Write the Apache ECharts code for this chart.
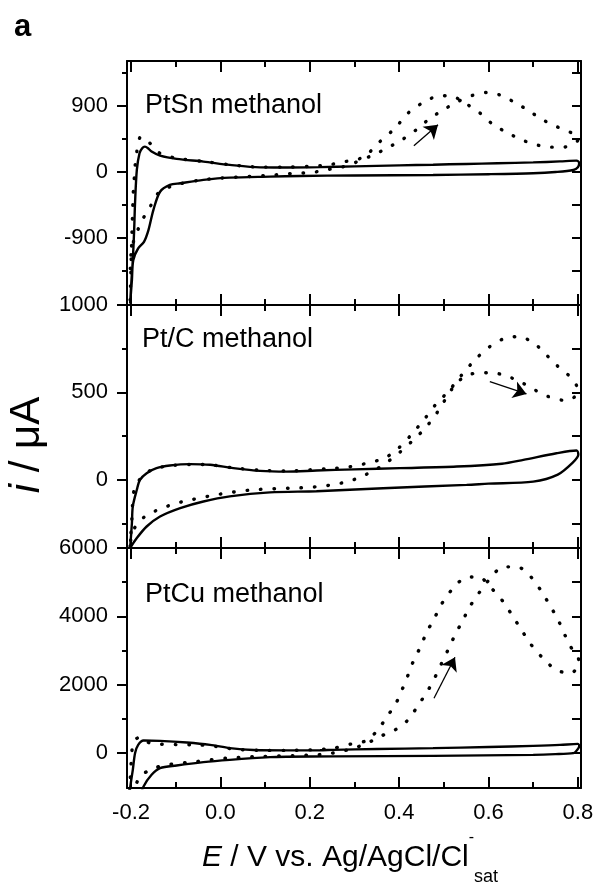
<!DOCTYPE html>
<html><head><meta charset="utf-8">
<script src="https://cdn.jsdelivr.net/npm/echarts@6/dist/echarts.min.js"></script>
<style>html,body{margin:0;padding:0;background:#fff}#c{width:597px;height:885px}</style>
</head><body><div id="c"></div>
<script>
const panelNames = ['PtSn methanol', 'Pt/C methanol', 'PtCu methanol'];
const xRange = [-0.209, 0.807];
const xMajorTicks = [-0.2, 0, 0.2, 0.4, 0.6, 0.8];
const xMinorTicks = [-0.1, 0.1, 0.3, 0.5, 0.7];
const yRanges = [[-1820, 1510], [-390, 1000], [-1020, 6000]];
const yMajorTicks = [[-900, 0, 900], [0, 500, 1000], [0, 2000, 4000, 6000]];
const yMinorTicks = [[-1350, -450, 450, 1350], [-250, 250, 750], [1000, 3000, 5000]];
const yTickLabels = [[-900, 0, 900], [0, 500, 1000], [0, 2000, 4000, 6000]];

// PtSn
const ptsnSolid = [[-0.202,-1800],[-0.199,-1480],[-0.196,-1208],[-0.193,-800],[-0.191,-428],[-0.187,23],[-0.181,252],[-0.175,320],[-0.169,342],[-0.162,320],[-0.154,274],[-0.135,219],[-0.098,174],[-0.038,137],[0.021,92],[0.089,58],[0.15,57],[0.223,62],[0.30,72],[0.40,85],[0.476,95],[0.55,105],[0.62,115],[0.70,126],[0.76,140],[0.797,150],[0.803,120],[0.800,60],[0.79,23],[0.75,-5],[0.70,-22],[0.60,-35],[0.476,-45],[0.30,-52],[0.178,-59],[0.111,-68],[0.021,-82],[-0.038,-113],[-0.09,-159],[-0.113,-182],[-0.135,-274],[-0.150,-524],[-0.161,-798],[-0.171,-958],[-0.184,-1048],[-0.195,-1208],[-0.198,-1481],[-0.202,-1800]];
const ptsnDotted = [[-0.202,-1750],[-0.200,-1300],[-0.199,-1071],[-0.197,-660],[-0.195,-296],[-0.193,-114],[-0.191,68],[-0.187,274],[-0.178,479],[-0.167,430],[-0.156,379],[-0.135,250],[-0.1,185],[-0.04,140],[0.02,95],[0.09,62],[0.15,62],[0.20,72],[0.24,90],[0.279,137],[0.309,170],[0.331,251],[0.357,410],[0.391,594],[0.420,799],[0.454,944],[0.484,1026],[0.514,1036],[0.547,936],[0.581,799],[0.611,639],[0.644,525],[0.674,434],[0.708,365],[0.737,334],[0.767,334],[0.790,380],[0.802,450],[0.795,510],[0.782,540],[0.752,616],[0.719,717],[0.689,835],[0.659,944],[0.626,1045],[0.596,1081],[0.564,1040],[0.532,958],[0.499,844],[0.467,717],[0.438,570],[0.406,434],[0.372,320],[0.342,228],[0.30,120],[0.27,60],[0.234,23],[0.204,-14],[0.17,-22],[0.10,-55],[0.0,-88],[-0.05,-120],[-0.10,-180],[-0.125,-240],[-0.143,-319],[-0.159,-501],[-0.178,-698],[-0.199,-1071],[-0.202,-1500]];
const ptsnArrow = [[0.433,352],[0.487,639]];

// Pt/C
const ptcSolid = [[-0.202,-390],[-0.198,-247],[-0.196,-152],[-0.187,-57],[-0.18,0],[-0.165,38],[-0.143,67],[-0.113,82],[-0.068,90],[-0.023,86],[0.029,67],[0.089,51],[0.148,47],[0.215,53],[0.30,60],[0.402,67],[0.529,76],[0.63,92],[0.678,114],[0.752,152],[0.797,168],[0.801,143],[0.789,100],[0.755,30],[0.70,-10],[0.60,-22],[0.551,-29],[0.364,-48],[0.215,-65],[0.111,-72],[0.021,-95],[-0.038,-124],[-0.090,-162],[-0.135,-210],[-0.165,-267],[-0.187,-333],[-0.202,-390]];
const ptcDotted = [[-0.202,-380],[-0.198,-219],[-0.193,-57],[-0.178,10],[-0.154,57],[-0.12,78],[-0.07,88],[-0.02,85],[0.03,68],[0.09,55],[0.15,50],[0.2,57],[0.249,65],[0.283,72],[0.312,86],[0.335,99],[0.368,125],[0.398,180],[0.428,260],[0.458,352],[0.484,438],[0.51,505],[0.54,600],[0.573,695],[0.603,762],[0.637,810],[0.666,819],[0.70,785],[0.726,724],[0.752,657],[0.786,581],[0.799,520],[0.795,480],[0.775,453],[0.734,476],[0.704,514],[0.670,562],[0.64,594],[0.607,613],[0.577,610],[0.553,600],[0.525,543],[0.484,381],[0.458,295],[0.428,219],[0.398,150],[0.37,95],[0.345,55],[0.316,19],[0.286,-10],[0.256,-25],[0.227,-38],[0.2,-42],[0.178,-46],[0.074,-57],[-0.001,-82],[-0.083,-124],[-0.113,-146],[-0.143,-175],[-0.169,-210],[-0.187,-257],[-0.198,-305],[-0.202,-380]];
const ptcArrow = [[0.603,562],[0.685,491]];

// PtCu
const ptcuSolid = [[-0.204,-1400],[-0.202,-1022],[-0.196,-488],[-0.191,0],[-0.184,242],[-0.172,368],[-0.135,359],[-0.075,310],[-0.023,242],[0.021,146],[0.074,90],[0.15,80],[0.223,85],[0.253,96],[0.35,120],[0.476,146],[0.60,180],[0.70,213],[0.76,240],[0.80,272],[0.803,200],[0.795,40],[0.79,0],[0.75,-30],[0.70,-50],[0.476,-79],[0.253,-95],[0.15,-105],[0.111,-117],[0.021,-196],[-0.038,-263],[-0.098,-361],[-0.135,-438],[-0.154,-633],[-0.172,-975],[-0.18,-1300]];
const ptcuDotted = [[-0.205,-1500],[-0.201,-600],[-0.199,-146],[-0.196,242],[-0.188,420],[-0.179,467],[-0.165,330],[-0.146,272],[-0.10,250],[-0.05,240],[-0.02,213],[0.014,146],[0.05,100],[0.1,80],[0.15,80],[0.2,95],[0.253,146],[0.294,272],[0.327,368],[0.351,660],[0.373,1069],[0.393,1460],[0.408,1898],[0.420,2286],[0.433,2724],[0.448,3113],[0.461,3522],[0.478,3922],[0.495,4360],[0.516,4748],[0.545,5110],[0.577,5157],[0.609,4789],[0.633,4427],[0.654,4009],[0.674,3600],[0.696,3162],[0.722,2774],[0.752,2432],[0.784,2336],[0.803,2675],[0.796,2900],[0.786,3066],[0.771,3454],[0.756,3892],[0.737,4330],[0.719,4719],[0.696,5139],[0.664,5449],[0.633,5449],[0.602,5081],[0.579,4690],[0.558,4281],[0.542,3872],[0.525,3454],[0.510,3037],[0.495,2628],[0.481,2237],[0.463,1799],[0.443,1410],[0.420,972],[0.391,680],[0.357,486],[0.33,300],[0.30,150],[0.27,50],[0.24,-20],[0.2,-60],[0.089,-99],[0.014,-146],[-0.053,-245],[-0.12,-342],[-0.15,-450],[-0.18,-683],[-0.19,-1000],[-0.195,-1400]];
const ptcuArrow = [[0.478,1606],[0.525,2803]];

const solidData = [ptsnSolid, ptcSolid, ptcuSolid];
const dottedData = [ptsnDotted, ptcDotted, ptcuDotted];
const arrowData = [ptsnArrow, ptcArrow, ptcuArrow];

const FONT = '"Liberation Sans", Arial, sans-serif';
const gridTops = [61, 305, 548];
const gridHeights = [244, 243, 240];
const black = '#000';

const grids = [], xAxes = [], yAxes = [], series = [];
for (let i = 0; i < 3; i++) {
  grids.push({left: 127, right: 16, top: gridTops[i], height: gridHeights[i]});
  const xBase = {gridIndex: i, type: 'value', min: xRange[0], max: xRange[1], splitLine: {show: false}};
  const line = {show: true, onZero: false, lineStyle: {color: black, width: 2}};
  const noLine = {show: false, onZero: false};
  xAxes.push(Object.assign({}, xBase, {position: 'bottom', axisLine: line,
    axisTick: {inside: true, length: 11, customValues: xMajorTicks, lineStyle: {color: black, width: 2}},
    axisLabel: {show: i === 2, customValues: xMajorTicks, formatter: v => v.toFixed(1), fontSize: 22, color: black, margin: 14, fontFamily: FONT}}));
  xAxes.push(Object.assign({}, xBase, {position: 'bottom', axisLine: noLine,
    axisTick: {inside: true, length: 6, customValues: xMinorTicks, lineStyle: {color: black, width: 2}},
    axisLabel: {show: false}}));
  xAxes.push(Object.assign({}, xBase, {position: 'top', axisLine: line,
    axisTick: {inside: true, length: 11, customValues: xMajorTicks, lineStyle: {color: black, width: 2}},
    axisLabel: {show: false}}));
  xAxes.push(Object.assign({}, xBase, {position: 'top', axisLine: noLine,
    axisTick: {inside: true, length: 6, customValues: xMinorTicks, lineStyle: {color: black, width: 2}},
    axisLabel: {show: false}}));
  const yBase = {gridIndex: i, type: 'value', min: yRanges[i][0], max: yRanges[i][1], splitLine: {show: false}};
  yAxes.push(Object.assign({}, yBase, {position: 'left', axisLine: line,
    axisTick: {inside: false, length: 10, customValues: yMajorTicks[i], lineStyle: {color: black, width: 2}},
    axisLabel: {show: true, customValues: yTickLabels[i], formatter: v => String(v), fontSize: 22, color: black, margin: 19, fontFamily: FONT}}));
  yAxes.push(Object.assign({}, yBase, {position: 'left', axisLine: noLine,
    axisTick: {inside: false, length: 5, customValues: yMinorTicks[i], lineStyle: {color: black, width: 2}},
    axisLabel: {show: false}}));
  yAxes.push(Object.assign({}, yBase, {position: 'right', axisLine: line,
    axisTick: {inside: true, length: 9, customValues: yMajorTicks[i].concat(yMinorTicks[i]), lineStyle: {color: black, width: 2}},
    axisLabel: {show: false}}));

  series.push({type: 'line', xAxisIndex: 4 * i, yAxisIndex: 3 * i, data: solidData[i], symbol: 'none',
    smooth: 0.3, clip: true, lineStyle: {color: black, width: 2.4}, silent: true});
  series.push({type: 'line', xAxisIndex: 4 * i, yAxisIndex: 3 * i, data: dottedData[i], symbol: 'none',
    smooth: 0.3, clip: true, lineStyle: {color: black, width: 3.4, type: [0.5, 13], cap: 'round'}, silent: true});
  series.push({type: 'lines', coordinateSystem: 'cartesian2d', xAxisIndex: 4 * i, yAxisIndex: 3 * i,
    data: [{coords: arrowData[i]}], symbol: ['none', 'arrow'], symbolSize: 13,
    lineStyle: {color: black, width: 1.3, opacity: 1}, silent: true});
}

const labelTops = [92, 326, 581];
const graphics = [
  {type: 'text', left: 14, top: 12, style: {text: 'a', font: 'bold 31px ' + FONT, fill: black}},
  {type: 'text', x: 27, y: 445, rotation: Math.PI / 2,
   style: {text: '{it|i} / μA', fontSize: 42, fontFamily: FONT, fill: black, align: 'center', verticalAlign: 'middle',
     rich: {it: {fontSize: 42, fontStyle: 'italic', fontFamily: FONT, fill: black}}}},
  {type: 'text', x: 202, y: 858,
   style: {text: '{it|E} / V vs. Ag/AgCl/Cl{sup|-}{sub|sat}', fontSize: 30, lineHeight: 56, fontFamily: FONT, fill: black,
     align: 'left', verticalAlign: 'middle',
     rich: {it: {fontSize: 30, lineHeight: 56, fontStyle: 'italic', fontFamily: FONT, fill: black},
            sup: {fontSize: 16, lineHeight: 16, verticalAlign: 'top', fontFamily: FONT, fill: black},
            sub: {fontSize: 18, lineHeight: 18, verticalAlign: 'bottom', fontFamily: FONT, fill: black}}}}
];
for (let i = 0; i < 3; i++) {
  graphics.push({type: 'text', left: i === 1 ? 142 : 145, top: labelTops[i],
    style: {text: panelNames[i], fontSize: 27, fontFamily: FONT, fill: black}});
}

const chart = echarts.init(document.getElementById('c'), null, {renderer: 'canvas'});
chart.setOption({
  animation: false,
  backgroundColor: '#fff',
  grid: grids,
  xAxis: xAxes,
  yAxis: yAxes,
  series: series,
  graphic: graphics
});
</script>
</body></html>
